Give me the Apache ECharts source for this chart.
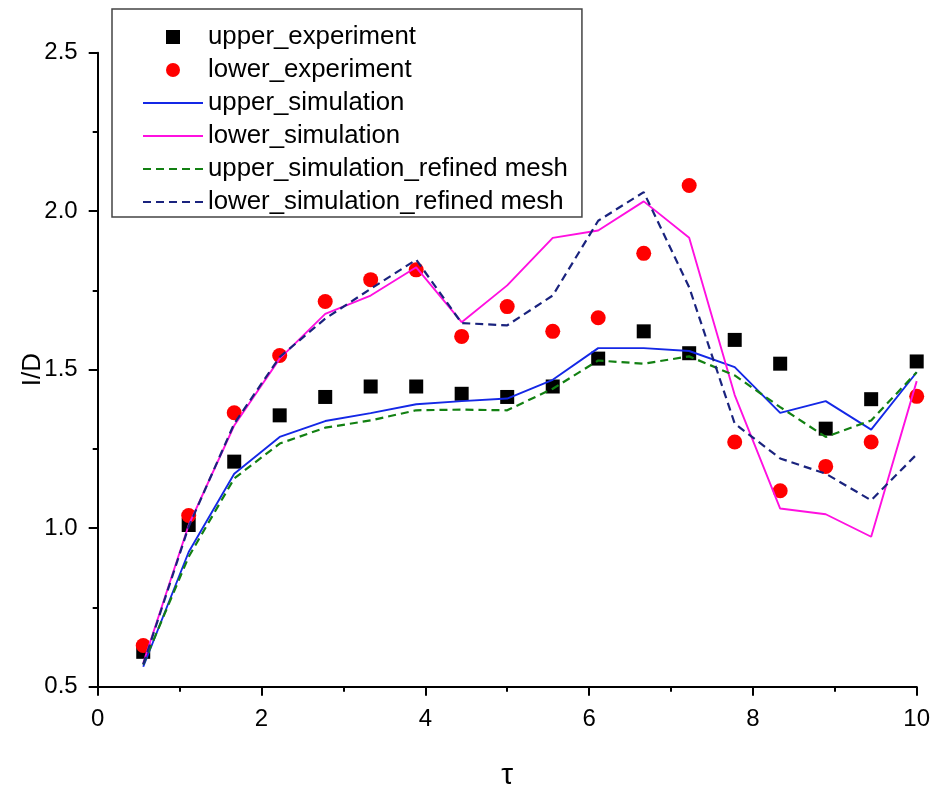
<!DOCTYPE html>
<html>
<head>
<meta charset="utf-8">
<script src="https://cdn.jsdelivr.net/npm/echarts@6/dist/echarts.min.js"></script>
<style>
  html, body { margin: 0; padding: 0; background: #fff; }
  #chart { width: 931px; height: 787px; }
</style>
</head>
<body>
<div id="chart"></div>
<script>
// tau positions of the samples
var tau = [0.556, 1.111, 1.667, 2.222, 2.778, 3.333, 3.889, 4.444, 5.0,
           5.556, 6.111, 6.667, 7.222, 7.778, 8.333, 8.889, 9.444, 10.0];

var upperExp = [0.61, 1.01, 1.21, 1.356, 1.414, 1.447, 1.447, 1.424, 1.414,
                1.447, 1.535, 1.621, 1.552, 1.594, 1.519, 1.314, 1.407, 1.526];
var lowerExp = [0.63, 1.04, 1.364, 1.545, 1.715, 1.784, 1.815, 1.605, 1.699,
                1.621, 1.664, 1.867, 2.081, 1.272, 1.118, 1.195, 1.272, 1.416];
var upperSim = [0.563, 0.925, 1.172, 1.288, 1.338, 1.363, 1.391, 1.401, 1.409,
                1.468, 1.568, 1.568, 1.559, 1.508, 1.364, 1.401, 1.311, 1.492];
var lowerSim = [0.575, 1.01, 1.324, 1.535, 1.676, 1.734, 1.823, 1.650, 1.766,
                1.916, 1.939, 2.031, 1.916, 1.42, 1.062, 1.044, 0.973, 1.464];
var upperRef = [0.57, 0.91, 1.157, 1.267, 1.317, 1.340, 1.372, 1.374, 1.372,
                1.440, 1.529, 1.519, 1.542, 1.482, 1.382, 1.288, 1.340, 1.492];
var lowerRef = [0.57, 1.005, 1.33, 1.540, 1.661, 1.755, 1.847, 1.647, 1.640,
                1.734, 1.97, 2.060, 1.76, 1.330, 1.220, 1.172, 1.088, 1.233];

var xTicks = { min: 0, max: 10, interval: 2 };
var yTicks = { min: 0.5, max: 2.5, interval: 0.5 };

function pairs(ys) {
  return tau.map(function (t, i) { return [t, ys[i]]; });
}

var myChart = echarts.init(document.getElementById('chart'));
var fontFam = '"Liberation Sans", Arial, sans-serif';

var axisCommon = {
  nameMoveOverlap: false,
  axisLine: { show: true, onZero: false, lineStyle: { color: '#000', width: 2 } },
  axisTick: { show: true, length: 9, lineStyle: { color: '#000', width: 2 } },
  minorTick: { show: true, splitNumber: 2, length: 5, lineStyle: { color: '#000', width: 2 } },
  splitLine: { show: false }
};

function lineSeries(name, ys, color, dashed) {
  return {
    name: name,
    type: 'line',
    data: pairs(ys),
    symbol: 'none',
    lineStyle: { color: color, width: dashed ? 2.2 : 1.9, type: dashed ? [8, 5] : 'solid' },
    // hide the dot in the legend icon
    itemStyle: { color: color, opacity: 0 }
  };
}

var option = {
  animation: false,
  grid: { left: 97.7, right: 14.3, top: 52.7, bottom: 100.3, outerBoundsMode: 'none' },
  legend: {
    orient: 'vertical',
    left: 112,
    top: 9,
    padding: [15, 14, 2, 30],
    borderColor: '#444',
    borderWidth: 1.5,
    itemWidth: 60,
    itemHeight: 14,
    itemGap: 7,
    textStyle: { color: '#000', fontSize: 25.8, lineHeight: 25, fontFamily: fontFam },
    data: [
      { name: 'upper_experiment', icon: 'path://M0,0H10V10H0Z' },
      { name: 'lower_experiment', icon: 'circle' },
      'upper_simulation', 'lower_simulation',
      'upper_simulation_refined mesh', 'lower_simulation_refined mesh'
    ]
  },
  xAxis: Object.assign({
    type: 'value',
    min: xTicks.min, max: xTicks.max, interval: xTicks.interval,
    name: 'τ',
    nameLocation: 'middle',
    nameGap: 74,
    nameTextStyle: { color: '#000', fontSize: 30, fontFamily: fontFam },
    axisLabel: { color: '#000', fontSize: 24, fontFamily: fontFam, margin: 21 }
  }, axisCommon),
  yAxis: Object.assign({
    type: 'value',
    min: yTicks.min, max: yTicks.max, interval: yTicks.interval,
    name: 'I/D',
    nameLocation: 'middle',
    nameGap: 52,
    nameTextStyle: { color: '#000', fontSize: 26, fontFamily: fontFam },
    axisLabel: {
      color: '#000', fontSize: 24, fontFamily: fontFam, margin: 20,
      formatter: function (v) { return v.toFixed(1); }
    }
  }, axisCommon),
  series: [
    {
      name: 'upper_experiment',
      type: 'scatter',
      data: pairs(upperExp),
      symbol: 'rect',
      symbolSize: 14,
      itemStyle: { color: '#000', opacity: 1 }
    },
    {
      name: 'lower_experiment',
      type: 'scatter',
      data: pairs(lowerExp),
      symbol: 'circle',
      symbolSize: 15,
      itemStyle: { color: '#ff0000', opacity: 1 }
    },
    lineSeries('upper_simulation', upperSim, '#1428e6', false),
    lineSeries('lower_simulation', lowerSim, '#ff10e0', false),
    lineSeries('upper_simulation_refined mesh', upperRef, '#128012', true),
    lineSeries('lower_simulation_refined mesh', lowerRef, '#1a237e', true)
  ]
};

myChart.setOption(option);
</script>
</body>
</html>
